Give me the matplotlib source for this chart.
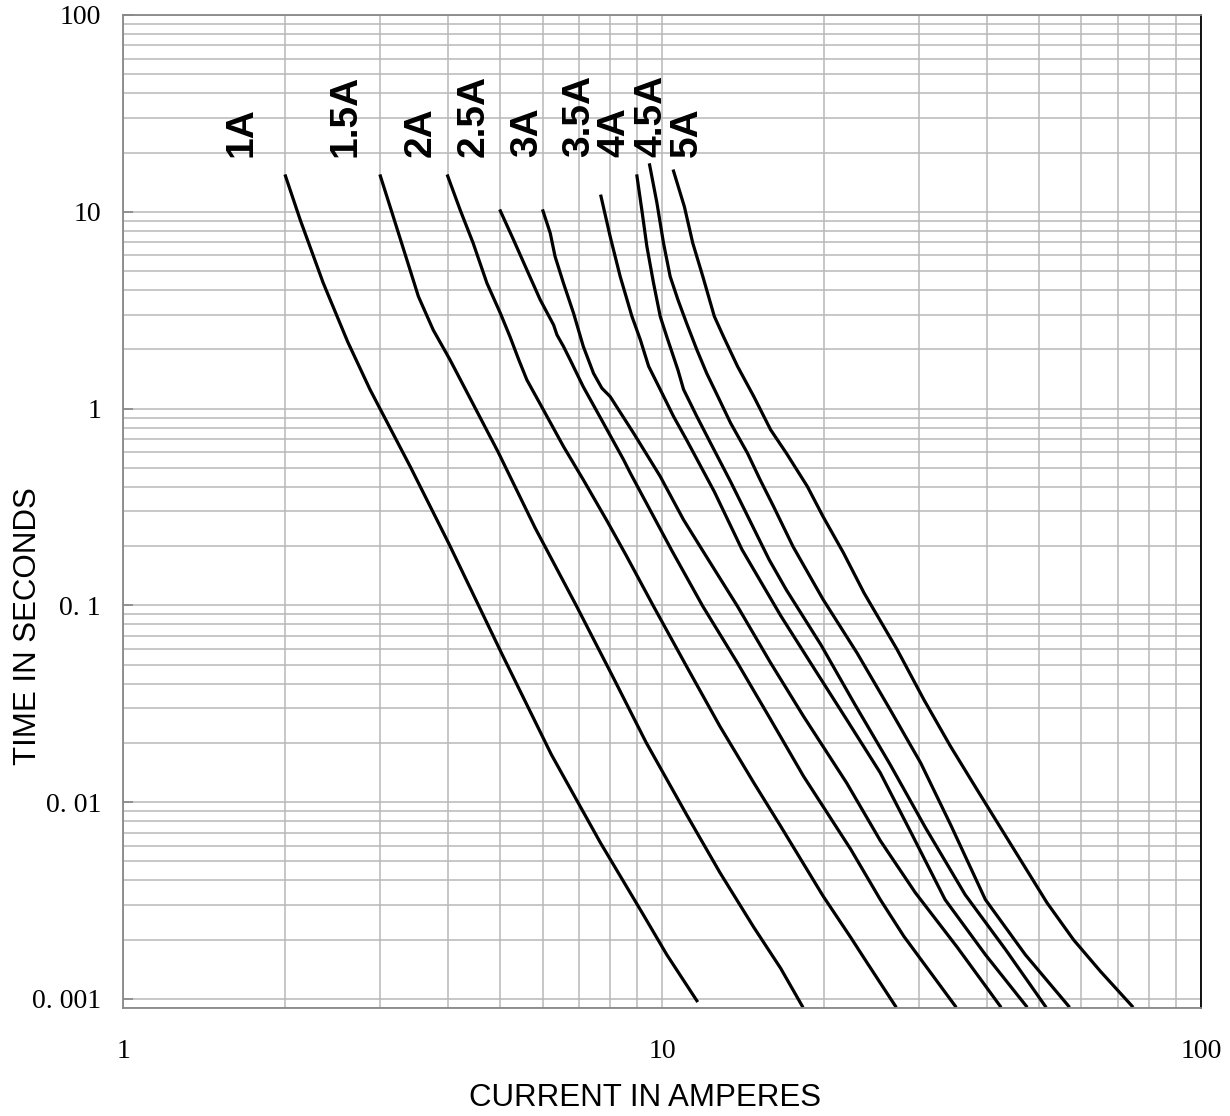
import numpy as np
import matplotlib
matplotlib.use("Agg")
import matplotlib.pyplot as plt
from matplotlib.ticker import LogLocator, FixedLocator, FixedFormatter, NullFormatter

plt.rcParams["font.family"] = ["Liberation Serif", "DejaVu Serif"]

# fuse ratings and their time-current curves (amperes, seconds)
ratings = ["1A", "1.5A", "2A", "2.5A", "3A", "3.5A", "4A", "4.5A", "5A"]

i_1a = [2.00, 2.13, 2.35, 2.61, 2.87, 3.41, 4.02, 5.05, 6.23, 7.68, 9.22, 10.2, 11.6]
t_1a = [15.2, 9.10, 4.35, 2.18, 1.25, 0.506, 0.206, 0.0562, 0.01745, 0.00623, 0.00269, 0.00168, 0.00098]

i_15a = [3.00, 3.17, 3.36, 3.53, 3.76, 4.04, 4.96, 5.81, 6.93, 8.08, 9.34, 11.1, 12.8, 14.8, 16.6, 18.2]
t_15a = [15.2, 9.45, 5.70, 3.71, 2.51, 1.77, 0.603, 0.248, 0.0997, 0.044, 0.0201, 0.00865, 0.00439, 0.00231, 0.00143, 0.00092]

i_2a = [4.00, 4.22, 4.46, 4.73, 5.01, 5.22, 5.42, 5.61, 6.02, 6.56, 7.14, 7.90, 8.58, 9.64, 11.1, 12.8, 14.8, 16.6, 19.9, 22.4, 24.0, 27.1]
t_2a = [15.2, 10.2, 6.93, 4.34, 3.05, 2.32, 1.77, 1.40, 0.986, 0.642, 0.435, 0.269, 0.179, 0.0989, 0.049, 0.0243, 0.01253, 0.00754, 0.00333, 0.00205, 0.00153, 0.00092]

i_25a = [5.01, 5.30, 5.61, 5.94, 6.29, 6.38, 6.56, 6.75, 7.14, 7.78, 8.48, 8.73, 10.4, 11.9, 13.8, 15.9, 18.3, 22.4, 25.4, 28.1, 35.0]
t_25a = [10.1, 7.20, 5.07, 3.57, 2.66, 2.37, 2.07, 1.77, 1.29, 0.844, 0.550, 0.470, 0.192, 0.0989, 0.051, 0.0263, 0.01354, 0.00575, 0.0032, 0.00208, 0.00092]

i_3a = [6.01, 6.20, 6.33, 6.56, 6.85, 7.14, 7.46, 7.73, 8.01, 8.85, 9.92, 10.96, 11.86, 13.8, 15.9, 18.3, 22.0, 25.4, 29.5, 35.3, 42.4]
t_3a = [10.1, 7.79, 5.92, 4.34, 3.05, 2.07, 1.51, 1.27, 1.15, 0.751, 0.452, 0.272, 0.192, 0.0989, 0.051, 0.0273, 0.01253, 0.00638, 0.00347, 0.00183, 0.00092]

i_35a = [7.70, 8.01, 8.36, 8.79, 9.11, 9.44, 9.92, 10.5, 11.1, 12.5, 14.07, 16.6, 19.1, 22.0, 25.4, 29.1, 33.5, 39.8, 47.4]
t_35a = [12.0, 7.48, 4.69, 2.94, 2.24, 1.64, 1.25, 0.912, 0.694, 0.378, 0.192, 0.0886, 0.0483, 0.0263, 0.0141, 0.00684, 0.0032, 0.00168, 0.00092]

i_4a = [8.98, 9.17, 9.37, 9.64, 9.92, 10.2, 10.7, 10.96, 11.6, 12.3, 13.4, 14.4, 15.8, 17.0, 19.7, 22.8, 26.5, 30.8, 36.5, 43.4, 51.4]
t_4a = [15.2, 10.2, 6.66, 4.34, 2.94, 2.32, 1.57, 1.25, 0.912, 0.668, 0.425, 0.2855, 0.1706, 0.120, 0.0632, 0.0313, 0.01552, 0.00743, 0.00339, 0.00178, 0.00092]

i_45a = [9.48, 9.78, 10.06, 10.35, 10.7, 11.1, 11.6, 12.1, 12.6, 13.4, 14.4, 15.2, 16.1, 17.5, 19.9, 23.0, 26.5, 30.2, 34.3, 39.8, 47.2, 56.8]
t_45a = [17.3, 11.1, 6.93, 4.69, 3.57, 2.72, 1.99, 1.51, 1.20, 0.844, 0.594, 0.435, 0.318, 0.1987, 0.107, 0.0573, 0.0295, 0.0158, 0.00769, 0.0032, 0.00168, 0.00092]

i_5a = [10.5, 11.0, 11.4, 11.9, 12.5, 13.0, 13.8, 14.8, 15.9, 17.0, 18.6, 19.9, 21.7, 23.7, 27.3, 30.6, 34.3, 38.4, 41.2, 46.2, 51.8, 58.0, 65.1, 74.5]
t_5a = [16.1, 10.6, 6.93, 4.69, 2.94, 2.32, 1.64, 1.15, 0.78, 0.594, 0.402, 0.282, 0.185, 0.1156, 0.0596, 0.0332, 0.0192, 0.01159, 0.00848, 0.00511, 0.00308, 0.0020, 0.00138, 0.00092]

currents = [i_1a, i_15a, i_2a, i_25a, i_3a, i_35a, i_4a, i_45a, i_5a]
times = [t_1a, t_15a, t_2a, t_25a, t_3a, t_35a, t_4a, t_45a, t_5a]

# where the rating labels sit (current axis)
label_x = [1.66, 2.58, 3.56, 4.46, 5.62, 7.02, 8.15, 9.54, 11.1]

y_ticks = [0.001, 0.01, 0.1, 1, 10, 100]
y_ticklabels = ["0. 001", "0. 01", "0. 1", "1", "10", "100"]
x_ticks = [1, 10, 100]
x_ticklabels = ["1", "10", "100"]

fig = plt.figure(figsize=(12.3, 11.16), dpi=100)
ax = fig.add_axes([0.1002, 0.0968, 0.8762, 0.8898])

ax.set_xscale("log")
ax.set_yscale("log")
ax.set_xlim(1, 100)
ax.set_ylim(0.0009, 100)

grid_col = "#b8b8b8"
ax.xaxis.set_minor_locator(LogLocator(base=10, subs=np.arange(2, 10)))
ax.yaxis.set_minor_locator(LogLocator(base=10, subs=np.arange(2, 10)))
ax.xaxis.set_minor_formatter(NullFormatter())
ax.yaxis.set_minor_formatter(NullFormatter())
ax.grid(True, which="both", color=grid_col, linewidth=1.1)
ax.set_axisbelow(True)

ax.yaxis.set_major_locator(FixedLocator(y_ticks))
ax.yaxis.set_major_formatter(FixedFormatter(y_ticklabels))
ax.xaxis.set_major_locator(FixedLocator(x_ticks))
ax.xaxis.set_major_formatter(FixedFormatter(x_ticklabels))

ax.tick_params(axis="y", which="major", direction="in", length=7, width=1.2,
               color="#888888", pad=16, labelsize=20)
ax.tick_params(axis="x", which="major", length=0, pad=22, labelsize=20)
ax.tick_params(which="minor", length=0)

for side in ["left", "top", "bottom"]:
    ax.spines[side].set_color("#888888")
    ax.spines[side].set_linewidth(1.3)
ax.spines["right"].set_color("black")
ax.spines["right"].set_linewidth(1.3)

for cur, t, name, lx in zip(currents, times, ratings, label_x):
    ax.plot(cur, t, color="black", linewidth=2.3)
    ax.text(lx, 19.0, name, rotation=90, ha="center", va="bottom",
            fontsize=28, fontweight="bold", family="Liberation Sans")

fig.text(28 / 1230, 1 - 626 / 1116, "TIME IN SECONDS", rotation=90,
         ha="center", va="center", fontsize=22.5, family="Liberation Sans")
fig.text(645 / 1230, 1 - 1098 / 1116, "CURRENT IN AMPERES",
         ha="center", va="center", fontsize=22.5, family="Liberation Sans")

fig.savefig("out.png", dpi=100)
